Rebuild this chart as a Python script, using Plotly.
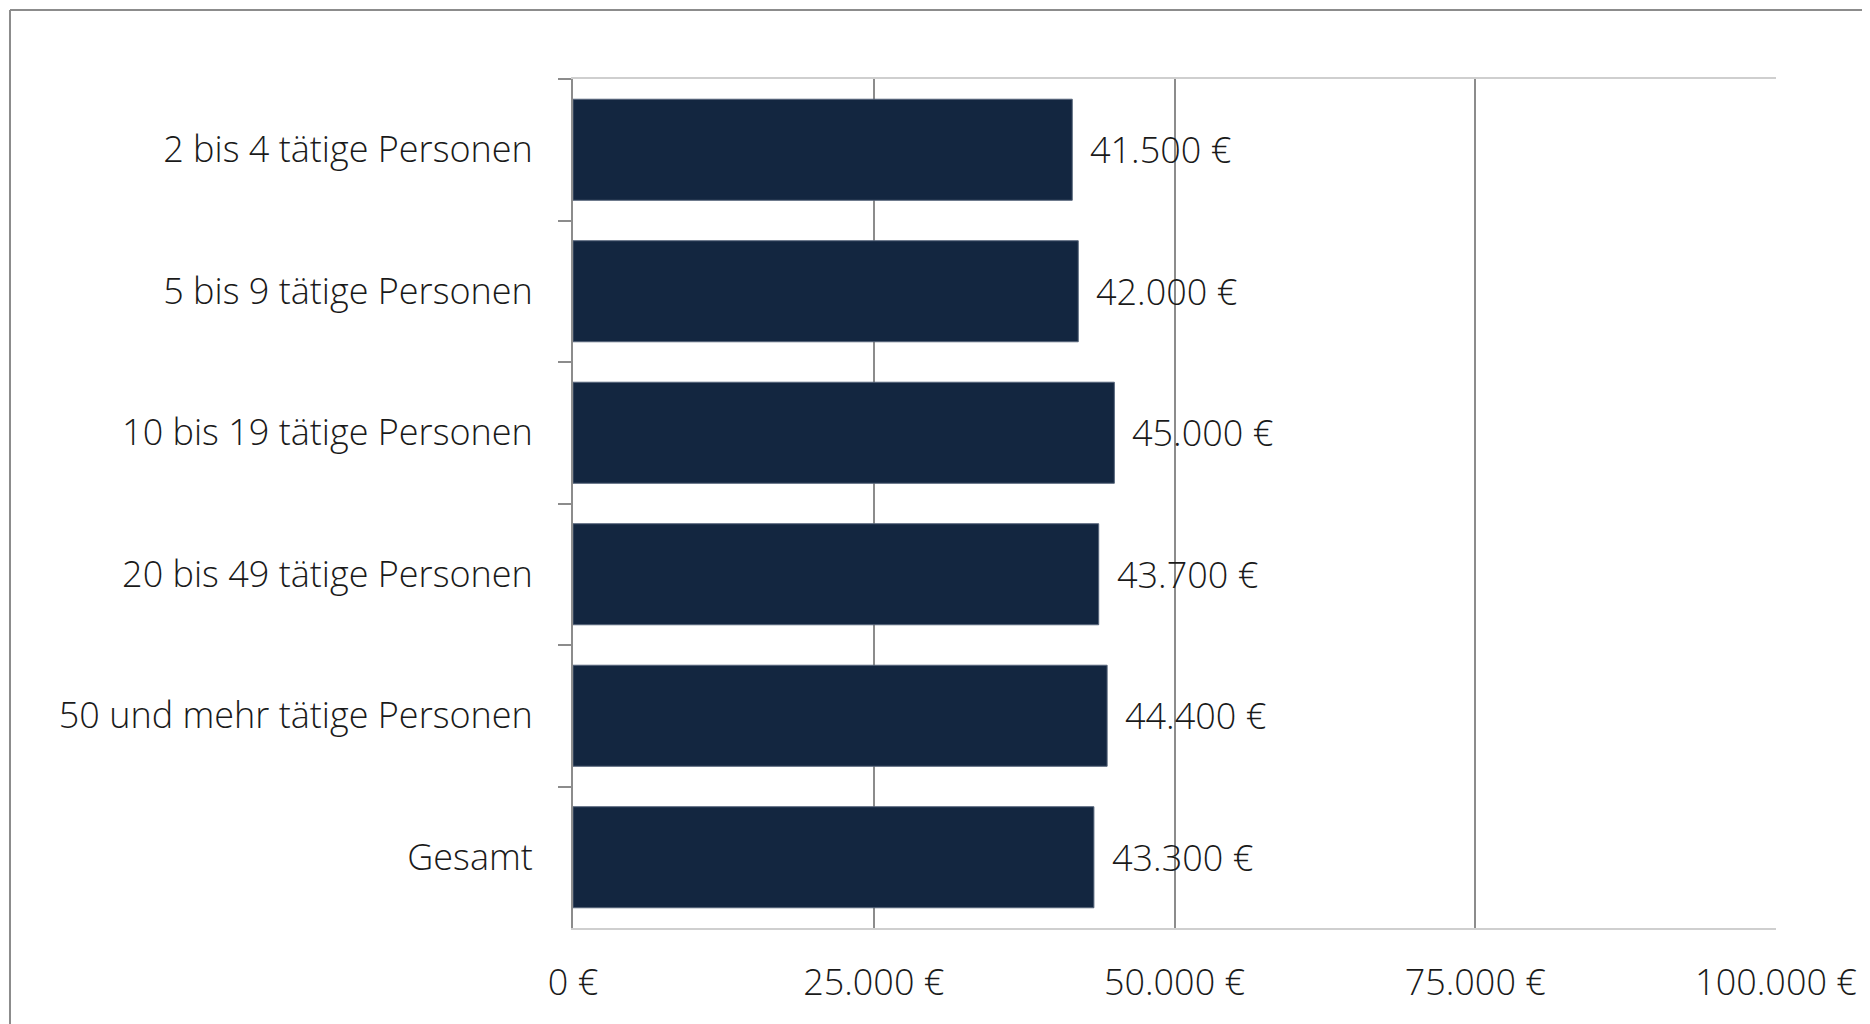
import plotly.graph_objects as go

categories = ["2 bis 4 tätige Personen", "5 bis 9 tätige Personen", "10 bis 19 tätige Personen",
              "20 bis 49 tätige Personen", "50 und mehr tätige Personen", "Gesamt"]
values = [41500, 42000, 45000, 43700, 44400, 43300]
value_labels = ["41.500 €", "42.000 €", "45.000 €", "43.700 €", "44.400 €", "43.300 €"]
x_tickvals = [0, 25000, 50000, 75000, 100000]
x_ticktext = ["0 €", "25.000 €", "50.000 €", "75.000 €", "100.000 €"]

FONT = "Open Sans"
fig = go.Figure()
fig.add_trace(go.Bar(
    x=values, y=categories, orientation="h",
    marker=dict(color="#132640", line=dict(color="#56657a", width=1)),
    hoverinfo="skip",
))
for c, v, t in zip(categories, values, value_labels):
    fig.add_annotation(x=v, y=c, text=t, showarrow=False, xanchor="left", xshift=16,
                       font=dict(family=FONT, size=36, color="#1a1a1a", weight=300))

# outer frame
fig.add_shape(type="line", xref="paper", yref="paper", x0=-0.468, x1=1.2, y0=1.0813, y1=1.0813,
              line=dict(color="#8c8c8c", width=2))
fig.add_shape(type="line", xref="paper", yref="paper", x0=-0.468, x1=-0.468, y0=1.0813, y1=-0.2,
              line=dict(color="#8c8c8c", width=2))

fig.update_layout(
    width=1862, height=1016,
    margin=dict(l=565, r=94, t=71, b=96),
    paper_bgcolor="white", plot_bgcolor="white",
    bargap=0.286,
    showlegend=False,
    font=dict(family=FONT, size=36, color="#1a1a1a", weight=300),
    xaxis=dict(range=[0, 100000], tickvals=x_tickvals, ticktext=x_ticktext,
               showgrid=True, gridcolor="#8c8c8c", gridwidth=1.5,
               showline=True, linecolor="#cfcfcf", linewidth=2, mirror=True,
               zeroline=False, ticks="", ticklabelstandoff=22,
               tickfont=dict(family=FONT, size=36, color="#1a1a1a", weight=300)),
    yaxis=dict(autorange="reversed", showline=True, linecolor="#8c8c8c", linewidth=2,
               ticks="outside", tickson="boundaries", ticklen=13, tickcolor="#8c8c8c", tickwidth=2,
               showgrid=False, ticklabelstandoff=31,
               tickfont=dict(family=FONT, size=36, color="#1a1a1a", weight=300)),
)
fig.write_html("out.html")
